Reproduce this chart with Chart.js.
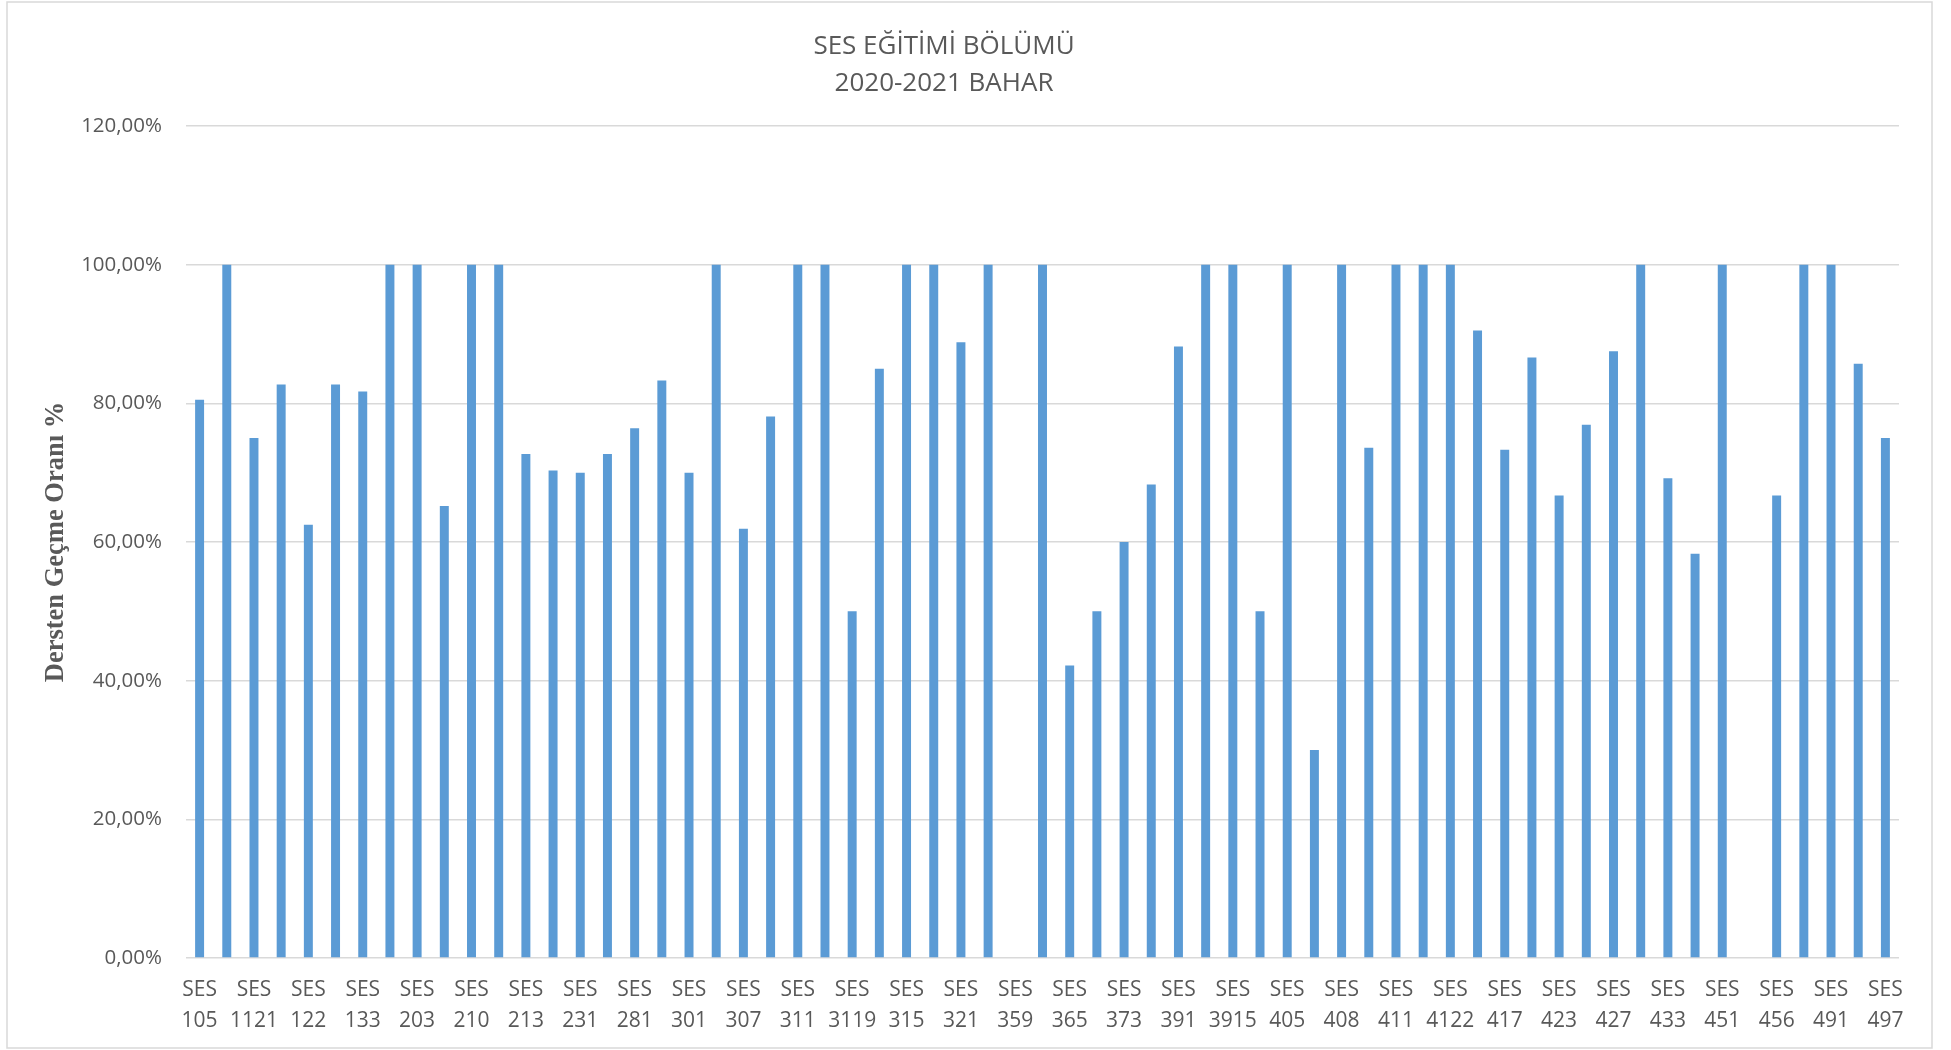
<!DOCTYPE html>
<html>
<head>
<meta charset="utf-8">
<title>SES EĞİTİMİ BÖLÜMÜ</title>
<script src="https://cdn.jsdelivr.net/npm/chart.js@4/dist/chart.umd.min.js"></script>
<style>
  html, body { margin: 0; padding: 0; background: #fff; }
  canvas { display: block; }
</style>
</head>
<body>
<canvas id="passChart" width="1951" height="1050"></canvas>
<script>
// ders kodları (boş olanlar grafikte etiketi görünmeyen dersler)
const courseCodes = [
  '105', '', '1121', '', '122', '', '133', '', '203', '', '210', '',
  '213', '', '231', '', '281', '', '301', '', '307', '', '311', '',
  '3119', '', '315', '', '321', '', '359', '', '365', '', '373', '',
  '391', '', '3915', '', '405', '', '408', '', '411', '', '4122', '',
  '417', '', '423', '', '427', '', '433', '', '451', '', '456', '',
  '491', '', '497'
];

// dersten geçme oranı (%)
const passRates = [
  80.5, 100, 75, 82.7, 62.5, 82.7, 81.7, 100, 100, 65.2, 100, 100,
  72.7, 70.3, 70, 72.7, 76.4, 83.3, 70, 100, 61.9, 78.1, 100, 100,
  50, 85, 100, 100, 88.8, 100, 0, 100, 42.2, 50, 60, 68.3,
  88.2, 100, 100, 50, 100, 30, 100, 73.6, 100, 100, 100, 90.5,
  73.3, 86.6, 66.7, 76.9, 87.5, 100, 69.2, 58.3, 100, 0, 66.7, 100,
  100, 85.7, 75
];

const titleLines = ['SES EĞİTİMİ BÖLÜMÜ', '2020-2021 BAHAR'];
const yTicks = [0, 20, 40, 60, 80, 100, 120];

const labels = courseCodes.map(c => c ? ['SES', c] : '');

// başlık ve dış çerçeve
const frameTitle = {
  id: 'frameTitle',
  beforeDraw(chart) {
    const ctx = chart.ctx;
    ctx.save();
    ctx.fillStyle = '#ffffff';
    ctx.fillRect(0, 0, chart.width, chart.height);
    ctx.strokeStyle = '#d9d9d9';
    ctx.lineWidth = 1.5;
    ctx.strokeRect(7, 2, 1925, 1046);
    ctx.restore();
  },
  afterDraw(chart) {
    const ctx = chart.ctx;
    ctx.save();
    ctx.fillStyle = '#595959';
    ctx.font = '26px "Open Sans"';
    ctx.textAlign = 'center';
    ctx.textBaseline = 'middle';
    titleLines.forEach((t, i) => ctx.fillText(t, 944, 47 + i * 36.5));
    ctx.restore();
  }
};

new Chart(document.getElementById('passChart'), {
  type: 'bar',
  data: {
    labels: labels,
    datasets: [{
      label: 'Geçme Oranı',
      data: passRates,
      backgroundColor: '#5b9bd5',
      borderWidth: 0,
      categoryPercentage: 1,
      barPercentage: 0.33
    }]
  },
  options: {
    responsive: false,
    animation: false,
    devicePixelRatio: 1,
    layout: { padding: { top: 126, right: 52, left: 0, bottom: 0 } },
    plugins: {
      legend: { display: false },
      tooltip: { enabled: false }
    },
    scales: {
      x: {
        grid: { display: false, drawTicks: false },
        border: { display: false },
        ticks: {
          autoSkip: false,
          maxRotation: 0,
          padding: 17,
          color: '#595959',
          font: { family: 'Open Sans', size: 21, lineHeight: 1.45 }
        },
        afterFit(scale) { scale.height = 92; }
      },
      y: {
        min: 0,
        max: 120,
        afterBuildTicks(scale) { scale.ticks = yTicks.map(v => ({ value: v })); },
        grid: { color: '#d9d9d9', lineWidth: 1.5, drawTicks: false },
        border: { display: false },
        ticks: {
          padding: 24,
          color: '#595959',
          font: { family: 'Open Sans', size: 20.5 },
          callback: v => v.toFixed(2).replace('.', ',') + '%'
        },
        title: {
          display: true,
          text: 'Dersten Geçme Oranı %',
          color: '#595959',
          font: { family: 'Liberation Serif', size: 26.5, weight: 'bold', lineHeight: 1.2 },
          padding: { top: 40, bottom: 0 }
        },
        afterFit(scale) { scale.width = 186; }
      }
    }
  },
  plugins: [frameTitle]
});
</script>
</body>
</html>
